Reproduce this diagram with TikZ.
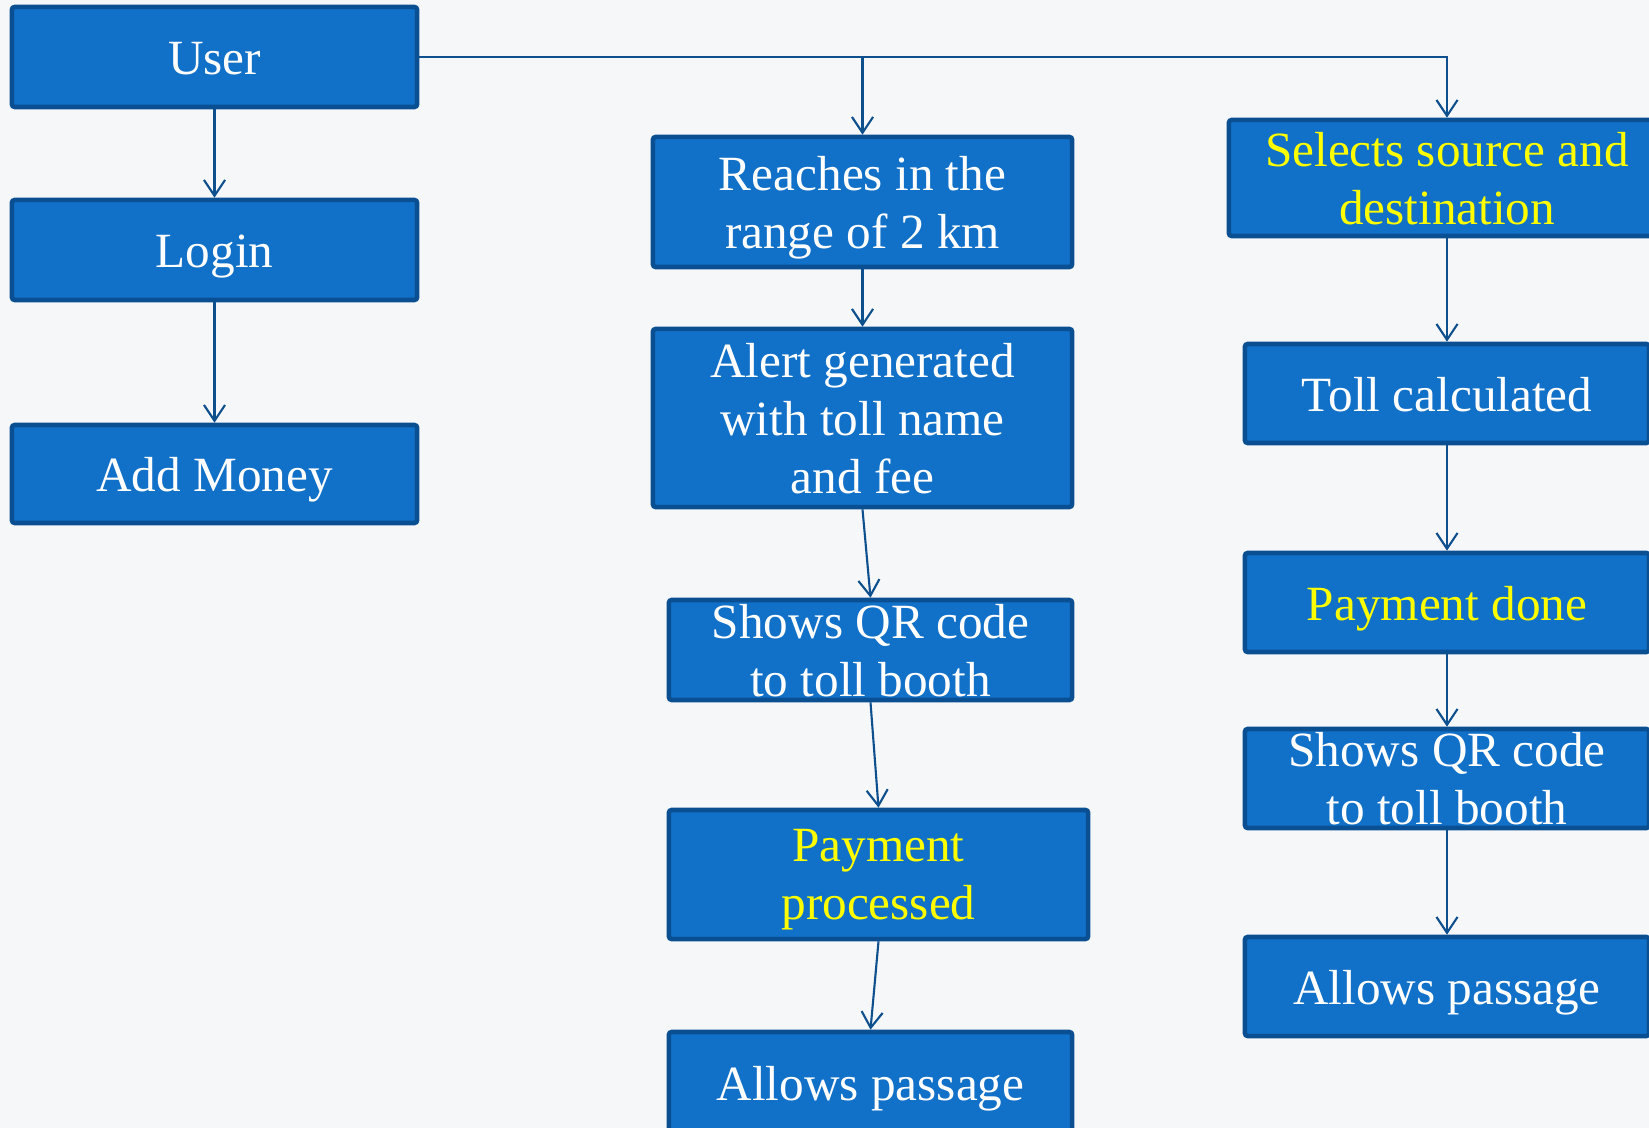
\documentclass[tikz,border=0pt]{standalone}
\usepackage{fontspec}
\setmainfont{Liberation Serif}
\usetikzlibrary{arrows.meta}
\definecolor{boxfill}{HTML}{1170C8}
\definecolor{boxline}{HTML}{0B4F93}
\definecolor{wire}{HTML}{0E4F8E}
\definecolor{hiyellow}{HTML}{FFFF00}
\definecolor{paper}{HTML}{F6F7F8}
\tikzset{
    stepbox/.style={draw=boxline,fill=boxfill,line width=1.3pt,text=white,
        align=center,inner sep=0pt,rounded corners=0.8pt,text depth=0pt,
        font=\fontsize{14}{16.5}\selectfont},
    oneline/.style={text height=10.2pt},
    hl/.style={text=hiyellow},
    wire/.style={draw=wire,line width=0.6pt},
    >={Straight Barb[length=4.5pt,width=6pt]}
}
\begin{document}
\begin{tikzpicture}[x=0.01cm,y=-0.01cm]
    \useasboundingbox (0,0) rectangle (1649,1128);
    \clip (0,0) rectangle (1649,1128);
    \fill[paper] (0,0) rectangle (1649,1128);
    % left column
    \node[stepbox,oneline,minimum width=4.05cm,minimum height=1cm] (user) at (214.5,57) {User};
    \node[stepbox,oneline,minimum width=4.05cm,minimum height=1cm] (login) at (214.5,250) {Login};
    \node[stepbox,oneline,minimum width=4.05cm,minimum height=0.98cm] (money) at (214.5,474) {Add Money};
    % middle column
    \node[stepbox,minimum width=4.19cm,minimum height=1.3cm] (reach) at (862.5,202) {Reaches in the\\range of 2 km};
    \node[stepbox,minimum width=4.19cm,minimum height=1.78cm] (alert) at (862.5,418) {Alert generated\\with toll name\\and fee};
    \node[stepbox,minimum width=4.03cm,minimum height=1cm] (qrmid) at (870.5,650) {Shows QR code\\to toll booth};
    \node[stepbox,hl,minimum width=4.19cm,minimum height=1.29cm] (paymid) at (878.5,874.5) {Payment\\processed};
    \node[stepbox,oneline,minimum width=4.03cm,minimum height=1.02cm] (passmid) at (870.5,1083) {Allows passage};
    % right column
    \node[stepbox,hl,minimum width=4.36cm,minimum height=1.16cm] (route) at (1447,178) {Selects source and\\destination};
    \node[stepbox,oneline,minimum width=4.04cm,minimum height=0.99cm] (calc) at (1447,393.5) {Toll calculated};
    \node[stepbox,oneline,hl,minimum width=4.04cm,minimum height=0.99cm] (paydone) at (1447,602.5) {Payment done};
    \node[stepbox,minimum width=4.04cm,minimum height=0.99cm] (qrright) at (1447,778.5) {Shows QR code\\to toll booth};
    \node[stepbox,oneline,minimum width=4.04cm,minimum height=0.99cm] (passright) at (1447,986.5) {Allows passage};
    % connectors
    \draw[wire,->] (user) -- (login);
    \draw[wire,->] (login) -- (money);
    \draw[wire,->] (user.east) -| (route.north);
    \draw[wire,->] (user.east -| reach.north) -- (reach.north);
    \draw[wire,->] (reach) -- (alert);
    \draw[wire,->] (alert.south) -- (qrmid.north);
    \draw[wire,->] (qrmid.south) -- (paymid.north);
    \draw[wire,->] (paymid.south) -- (passmid.north);
    \draw[wire,->] (route) -- (calc);
    \draw[wire,->] (calc) -- (paydone);
    \draw[wire,->] (paydone) -- (qrright);
    \draw[wire,->] (qrright) -- (passright);
\end{tikzpicture}
\end{document}
